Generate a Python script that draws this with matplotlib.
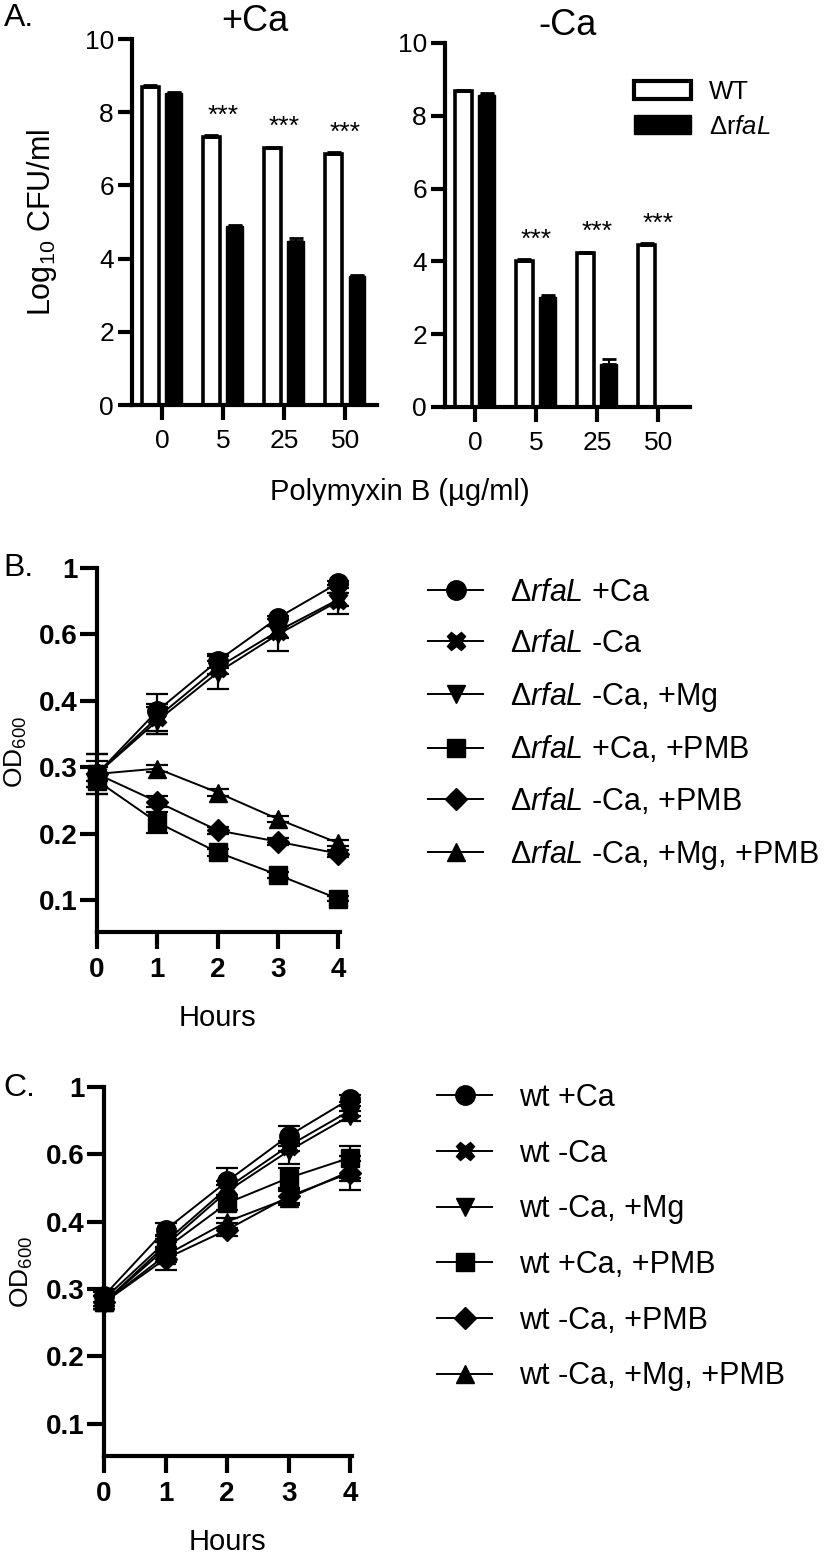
import numpy as np
import matplotlib
matplotlib.use("Agg")
import matplotlib.pyplot as plt
from matplotlib.lines import Line2D
from matplotlib.patches import Patch

plt.rcParams['font.family'] = ['Liberation Sans', 'DejaVu Sans']
plt.rcParams['mathtext.fontset'] = 'custom'
plt.rcParams['mathtext.rm'] = 'Liberation Sans'
plt.rcParams['mathtext.it'] = 'Liberation Sans:italic'
plt.rcParams['mathtext.bf'] = 'Liberation Sans:bold'

# ---- panel A data (log10 CFU/ml) ----
doses = ['0', '5', '25', '50']
wt_plus_ca = [8.70, 7.33, 7.03, 6.87]
wt_plus_ca_err = [0.04, 0.05, 0.03, 0.05]
ko_plus_ca = [8.52, 4.88, 4.48, 3.53]
ko_plus_ca_err = [0.04, 0.05, 0.07, 0.02]
sig_plus_ca = ['', '***', '***', '***']
wt_minus_ca = [8.68, 4.00, 4.22, 4.46]
wt_minus_ca_err = [0.03, 0.06, 0.03, 0.05]
ko_minus_ca = [8.58, 3.03, 1.18, 0.0]
ko_minus_ca_err = [0.05, 0.06, 0.15, 0.0]
sig_minus_ca = ['', '***', '***', '***']

# ---- panels B/C data (OD600) ----
hours = [0, 1, 2, 3, 4]
od_ticks = [0.1, 0.2, 0.3, 0.4, 0.6, 1.0]
od_tick_labels = ['0.1', '0.2', '0.3', '0.4', '0.6', '1']

b_labels = [r'Δ$\mathit{rfaL}$ +Ca', r'Δ$\mathit{rfaL}$ -Ca', r'Δ$\mathit{rfaL}$ -Ca, +Mg',
            r'Δ$\mathit{rfaL}$ +Ca, +PMB', r'Δ$\mathit{rfaL}$ -Ca, +PMB', r'Δ$\mathit{rfaL}$ -Ca, +Mg, +PMB']
b_vals = [
    [0.29, 0.385, 0.52, 0.70, 0.91],
    [0.29, 0.375, 0.50, 0.62, 0.81],
    [0.29, 0.370, 0.485, 0.60, 0.80],
    [0.28, 0.217, 0.172, 0.138, 0.102],
    [0.29, 0.248, 0.205, 0.188, 0.170],
    [0.29, 0.298, 0.262, 0.222, 0.186],
]
b_err = [
    [0.03, 0.035, 0.02, 0.01, 0.01],
    [0.02, 0.02, 0.02, 0.03, 0.04],
    [0.03, 0.02, 0.05, 0.05, 0.08],
    [0.01, 0.016, 0.005, 0.005, 0.004],
    [0.01, 0.008, 0.005, 0.005, 0.005],
    [0.01, 0.005, 0.005, 0.005, 0.005],
]

c_labels = ['wt +Ca', 'wt -Ca', 'wt -Ca, +Mg', 'wt +Ca, +PMB', 'wt -Ca, +PMB', 'wt -Ca, +Mg, +PMB']
c_vals = [
    [0.29, 0.388, 0.52, 0.71, 0.93],
    [0.285, 0.370, 0.50, 0.65, 0.86],
    [0.28, 0.365, 0.49, 0.62, 0.83],
    [0.28, 0.360, 0.455, 0.53, 0.59],
    [0.28, 0.345, 0.388, 0.475, 0.545],
    [0.28, 0.350, 0.400, 0.470, 0.550],
]
c_err = [
    [0.01, 0.01, 0.04, 0.06, 0.02],
    [0.01, 0.01, 0.02, 0.03, 0.03],
    [0.01, 0.01, 0.02, 0.05, 0.03],
    [0.01, 0.01, 0.02, 0.03, 0.06],
    [0.01, 0.017, 0.01, 0.02, 0.05],
    [0.01, 0.01, 0.01, 0.02, 0.03],
]

markers = ['o', 'X', 'v', 's', 'D', '^']
msizes = [14, 13, 13, 12.5, 11, 13]

# piecewise axis used for the OD600 panels (ticks evenly spaced)
od_ext = [0.0] + od_ticks
od_pos = [-1, 0, 1, 2, 3, 4, 5]


def od_fwd(v):
    return np.interp(v, od_ext, od_pos)


def od_inv(p):
    return np.interp(p, od_pos, od_ext)


W, H = 825, 1553
fig = plt.figure(figsize=(W / 100, H / 100), dpi=100)


def px_axes(x0, x1, y0, y1):
    return fig.add_axes([x0 / W, 1 - y1 / H, (x1 - x0) / W, (y1 - y0) / H])


def bar_panel(ax, wt, wt_err, ko, ko_err, sig, title):
    x = np.arange(len(doses))
    ax.bar(x - 0.19, wt, 0.27, color='white', edgecolor='black', linewidth=2.6, zorder=2)
    ax.bar(x + 0.19, ko, 0.27, color='black', edgecolor='black', linewidth=1, zorder=2)
    ax.errorbar(x - 0.19, wt, yerr=[np.zeros(4), wt_err], fmt='none', ecolor='black',
                elinewidth=1.5, capsize=5, capthick=2, zorder=3)
    ko_mask = np.array(ko) > 0
    ax.errorbar((x + 0.19)[ko_mask], np.array(ko)[ko_mask],
                yerr=[np.zeros(ko_mask.sum()), np.array(ko_err)[ko_mask]],
                fmt='none', ecolor='black', elinewidth=1.5, capsize=5, capthick=2, zorder=3)
    for i, s in enumerate(sig):
        if s:
            ax.text(x[i], wt[i] + 0.25, s, ha='center', va='bottom', fontsize=19)
    ax.set_xlim(-0.49, 3.52)
    ax.set_ylim(0, 10)
    ax.set_yticks([0, 2, 4, 6, 8, 10])
    ax.set_xticks(x)
    ax.set_xticklabels(doses)
    for sp in ['top', 'right']:
        ax.spines[sp].set_visible(False)
    for sp in ['left', 'bottom']:
        ax.spines[sp].set_linewidth(3)
    ax.tick_params(axis='both', width=3, length=10, labelsize=19, pad=3)
    ax.tick_params(axis='x', length=11, pad=6)
    ax.set_title(title, fontsize=26, pad=6)


axA1 = px_axes(132, 377, 39, 405)
bar_panel(axA1, wt_plus_ca, wt_plus_ca_err, ko_plus_ca, ko_plus_ca_err, sig_plus_ca, '+Ca')
axA2 = px_axes(445, 690, 43, 407)
bar_panel(axA2, wt_minus_ca, wt_minus_ca_err, ko_minus_ca, ko_minus_ca_err, sig_minus_ca, '-Ca')

axA2.legend([Patch(facecolor='white', edgecolor='black', linewidth=3),
             Patch(facecolor='black', edgecolor='black')],
            ['WT', r'Δr$\mathit{faL}$'], loc='upper left',
            bbox_to_anchor=(634 / W, 1 - 80 / H), bbox_transform=fig.transFigure,
            frameon=False, fontsize=18.5, handlelength=2.2, handleheight=0.75,
            handletextpad=0.7, labelspacing=0.42, borderpad=0, borderaxespad=0)

fig.text(42 / W, 1 - 222 / H, r'Log$_{10}$ CFU/ml', rotation=90, ha='center', va='center', fontsize=22)
fig.text(400 / W, 1 - 492 / H, 'Polymyxin B (µg/ml)', ha='center', va='center', fontsize=21)
fig.text(4 / W, 1 - 18 / H, 'A.', ha='left', va='center', fontsize=23)


def line_panel(ax, vals, errs, labels, leg_x, leg_y, spacing):
    ax.set_yscale('function', functions=(od_fwd, od_inv))
    for v, e, m, ms in zip(vals, errs, markers, msizes):
        ax.errorbar(hours, v, yerr=e, color='black', marker=m, ms=ms, lw=1.4,
                    elinewidth=1.6, capsize=8, capthick=1.6, clip_on=False, zorder=3)
    ax.set_xlim(0, 4.03)
    ax.set_ylim(0.052, 1.0)
    ax.set_yticks(od_ticks)
    ax.set_yticklabels(od_tick_labels)
    ax.yaxis.set_minor_locator(matplotlib.ticker.NullLocator())
    ax.set_xticks(hours)
    for sp in ['top', 'right']:
        ax.spines[sp].set_visible(False)
    for sp in ['left', 'bottom']:
        ax.spines[sp].set_linewidth(3)
    ax.tick_params(axis='both', width=3, length=12, labelsize=20, pad=2)
    ax.tick_params(axis='x', pad=6)
    for lab in ax.get_xticklabels() + ax.get_yticklabels():
        lab.set_fontweight('bold')
    handles = [Line2D([], [], color='black', marker=m, ms=ms, lw=1.4) for m, ms in zip(markers, msizes)]
    ax.legend(handles, labels, loc='upper left', bbox_to_anchor=(leg_x / W, 1 - leg_y / H),
              bbox_transform=fig.transFigure, frameon=False, fontsize=22,
              handlelength=1.8, handletextpad=0.9, labelspacing=spacing,
              borderpad=0, borderaxespad=0)


axB = px_axes(97, 340, 568, 932)
line_panel(axB, b_vals, b_err, b_labels, 428, 578, 0.68)
fig.text(217 / W, 1 - 1018 / H, 'Hours', ha='center', va='center', fontsize=21)
fig.text(16 / W, 1 - 752 / H, r'OD$_{600}$', rotation=90, ha='center', va='center', fontsize=19)
fig.text(3 / W, 1 - 568 / H, 'B.', ha='left', va='center', fontsize=23)

axC = px_axes(104, 352, 1087, 1456)
line_panel(axC, c_vals, c_err, c_labels, 437, 1083, 0.84)
fig.text(227 / W, 1 - 1542 / H, 'Hours', ha='center', va='center', fontsize=21)
fig.text(22 / W, 1 - 1272 / H, r'OD$_{600}$', rotation=90, ha='center', va='center', fontsize=19)
fig.text(3 / W, 1 - 1088 / H, 'C.', ha='left', va='center', fontsize=23)

fig.savefig('out.png', dpi=100)
